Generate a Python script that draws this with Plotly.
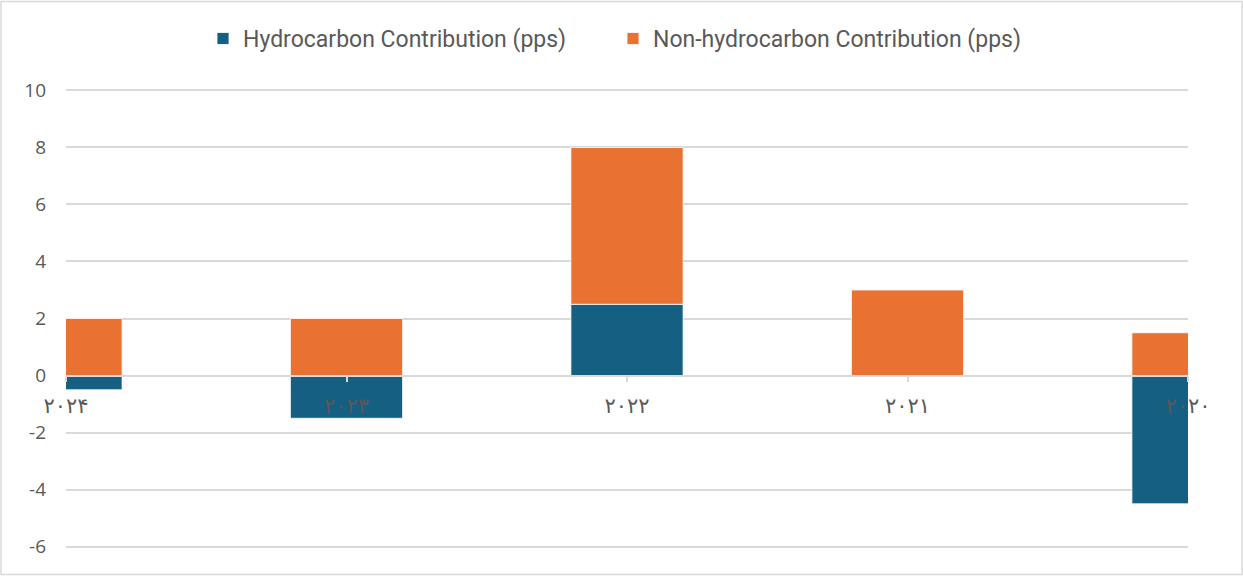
import plotly.graph_objects as go

years = ["۲۰۲۴", "۲۰۲۳", "۲۰۲۲", "۲۰۲۱", "۲۰۲۰"]
hydrocarbon = [-0.5, -1.5, 2.5, 0.0, -4.5]
non_hydrocarbon = [2.0, 2.0, 5.5, 3.0, 1.5]
y_ticks = [-6, -4, -2, 0, 2, 4, 6, 8, 10]
y_ticktext = ["-6", "-4", "-2", "0", "2", "4", "6", "8", "10"]

W, H = 1243, 577
Y0, Y1 = -6.05, 10.05
unit = (547 - 90) / 16.0
top_px = 90 - (Y1 - 10) * unit
bot_px = 547 + (-6 - Y0) * unit
L, R, T, B = 66, W - 1188, top_px, H - bot_px
pw, ph = W - L - R, H - T - B

def px_x(p):
    return (p - L) / pw

def px_y(p):
    return (H - B - p) / ph

fig = go.Figure()
fig.add_trace(go.Bar(x=years, y=hydrocarbon, name="Hydrocarbon Contribution (pps)",
                     marker=dict(color="#156082", line=dict(color="white", width=0.8))))
fig.add_trace(go.Bar(x=years, y=non_hydrocarbon, name="Non-hydrocarbon Contribution (pps)",
                     marker=dict(color="#E97132", line=dict(color="white", width=0.8))))

fig.update_layout(
    width=W, height=H,
    margin=dict(l=L, r=R, t=T, b=B),
    barmode="relative",
    bargap=0.6,
    plot_bgcolor="white",
    paper_bgcolor="white",
    font=dict(family="Open Sans, DejaVu Sans", color="#595959", size=18),
    legend=dict(orientation="h", x=0.5 - 14 / pw, xanchor="center", y=px_y(38), yanchor="middle",
                font=dict(size=23, family="Roboto, DejaVu Sans", color="#595959"),
                itemwidth=30, traceorder="normal", entrywidth=365, entrywidthmode="pixels"),
    xaxis=dict(
        type="category", range=[0, 4], anchor="free", position=(0 - Y0) / (Y1 - Y0),
        showline=True, linecolor="#d9d9d9", linewidth=1.5,
        ticks="outside", ticklen=6, tickcolor="#d9d9d9", tickwidth=1.5,
        showgrid=False, tickfont=dict(family="DejaVu Sans", size=21, color="#595959"),
        ticklabelstandoff=6,
    ),
    yaxis=dict(
        range=[Y0, Y1], tickvals=y_ticks, ticktext=y_ticktext,
        showgrid=True, gridcolor="#d9d9d9", gridwidth=1.5,
        zeroline=False, showline=False, ticks="",
        tickfont=dict(size=19, color="#595959"),
        ticklabelstandoff=19,
    ),
    shapes=[dict(type="rect", xref="paper", yref="paper",
                 x0=px_x(1), x1=px_x(1242), y0=px_y(575), y1=px_y(1),
                 line=dict(color="#d9d9d9", width=1.5), layer="below")],
)

fig.write_html("out.html", config={"displayModeBar": False},
               post_script="document.body.style.margin='0';document.body.style.overflow='hidden';")
